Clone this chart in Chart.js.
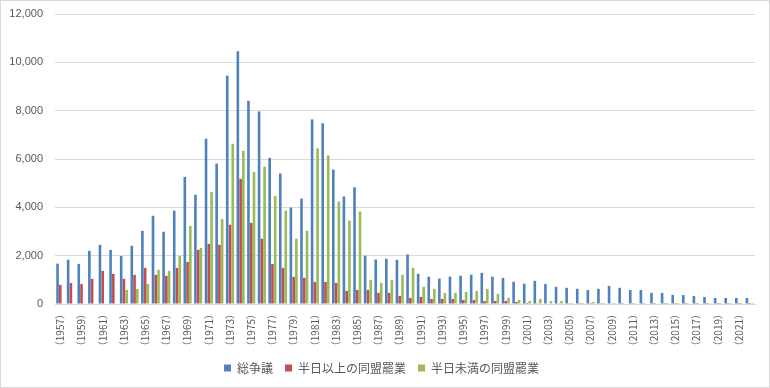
<!DOCTYPE html>
<html>
<head>
<meta charset="utf-8">
<script src="https://cdn.jsdelivr.net/npm/chart.js@4/dist/chart.umd.min.js"></script>
<style>
  html, body { margin: 0; padding: 0; background: #ffffff; }
  #wrap { width: 770px; height: 388px; position: relative; }
</style>
</head>
<body>
<div id="wrap"><canvas id="c" width="770" height="388"></canvas></div>
<script>
const years = [];
for (let y = 1957; y <= 2022; y++) years.push(y);
const categories = years.map(y => '（' + y + '）');

const seriesNames = ['総争議', '半日以上の同盟罷業', '半日未満の同盟罷業'];

const totalDisputes = [
  1670, 1830, 1660, 2200, 2450, 2240, 1990, 2410, 3030, 3650,
  2990, 3860, 5260, 4520, 6840, 5810, 9450, 10460, 8410, 7970,
  6050, 5400, 3990, 4360, 7640, 7480, 5560, 4450, 4830, 2000,
  1840, 1870, 1830, 2050, 1250, 1130, 1050, 1130, 1170, 1210,
  1290, 1130, 1080, 920, 840, 960, 830, 710, 670, 630,
  580, 630, 750, 670, 580, 580, 460, 460, 380, 370,
  330, 290, 250, 250, 250, 250
];

const strikesHalfDayOrMore = [
  790, 870, 830, 1040, 1370, 1245, 1040, 1205, 1495, 1205,
  1165, 1495, 1740, 2240, 2490, 2450, 3280, 5180, 3360, 2700,
  1660, 1495, 1120, 1080, 915, 915, 872, 540, 582, 582,
  458, 458, 333, 250, 292, 208, 208, 208, 167, 167,
  125, 125, 125, 83, 42, 30, 20, 12, 8, 6,
  5, 5, 10, 5, 4, 4, 3, 3, 3, 2,
  2, 2, 2, 2, 2, 2
];

const strikesUnderHalfDay = [
  0, 0, 0, 0, 0, 0, 580, 625, 830, 1410,
  1370, 1990, 3230, 2320, 4640, 3520, 6630, 6340, 5470, 5680,
  4475, 3860, 2700, 3030, 6440, 6150, 4240, 3450, 3825, 1000,
  875, 1000, 1208, 1500, 708, 625, 458, 458, 500, 542,
  625, 417, 250, 167, 125, 208, 125, 125, 42, 42,
  83, 42, 42, 20, 15, 15, 15, 42, 42, 10,
  10, 10, 5, 5, 5, 5
];

const yTicks = [0, 2000, 4000, 6000, 8000, 10000, 12000];

const borderPlugin = {
  id: 'outerBorder',
  beforeDraw(chart) {
    const ctx = chart.ctx;
    ctx.save();
    ctx.fillStyle = '#ffffff';
    ctx.fillRect(0, 0, chart.width, chart.height);
    ctx.restore();
  },
  afterDraw(chart) {
    const ctx = chart.ctx;
    ctx.save();
    ctx.strokeStyle = '#D9D9D9';
    ctx.lineWidth = 1;
    ctx.strokeRect(0.5, 0.5, chart.width - 1, chart.height - 1);
    ctx.restore();
  }
};

new Chart(document.getElementById('c'), {
  type: 'bar',
  data: {
    labels: categories,
    datasets: [
      { label: seriesNames[0], data: totalDisputes, backgroundColor: '#4F81BD' },
      { label: seriesNames[1], data: strikesHalfDayOrMore, backgroundColor: '#C0504D' },
      { label: seriesNames[2], data: strikesUnderHalfDay, backgroundColor: '#9BBB59' }
    ]
  },
  options: {
    responsive: false,
    animation: false,
    devicePixelRatio: 1,
    layout: { padding: { left: 8, right: 15, top: 14, bottom: 4 } },
    datasets: { bar: { categoryPercentage: 0.78, barPercentage: 0.95 } },
    plugins: {
      legend: {
        position: 'bottom',
        labels: {
          boxWidth: 7, boxHeight: 7, padding: 12,
          color: '#595959',
          font: { family: '"Noto Sans CJK JP", sans-serif', size: 12 }
        }
      },
      tooltip: { enabled: false }
    },
    scales: {
      x: {
        grid: { display: false, drawTicks: false },
        border: { display: true, color: '#D9D9D9' },
        ticks: {
          autoSkip: false, maxRotation: 90, minRotation: 90, padding: 5,
          color: '#595959',
          font: { family: '"Noto Sans CJK JP", sans-serif', size: 10 },
          callback: function(v, i) { return i % 2 === 0 ? categories[i] : ''; }
        },
        afterFit(scale) { scale.height = 46; }
      },
      y: {
        min: 0, max: 12000,
        afterBuildTicks(scale) { scale.ticks = yTicks.map(v => ({ value: v })); },
        grid: { color: '#D9D9D9', drawTicks: false },
        border: { display: false },
        ticks: {
          padding: 12,
          color: '#595959',
          font: { family: '"Liberation Sans", Arial, sans-serif', size: 11 },
          callback: v => v.toLocaleString('en-US')
        },
        afterFit(scale) {
          scale.width = 47;
          scale.paddingTop = 7;
          scale.paddingBottom = 7;
        }
      }
    }
  },
  plugins: [borderPlugin]
});
</script>
</body>
</html>
